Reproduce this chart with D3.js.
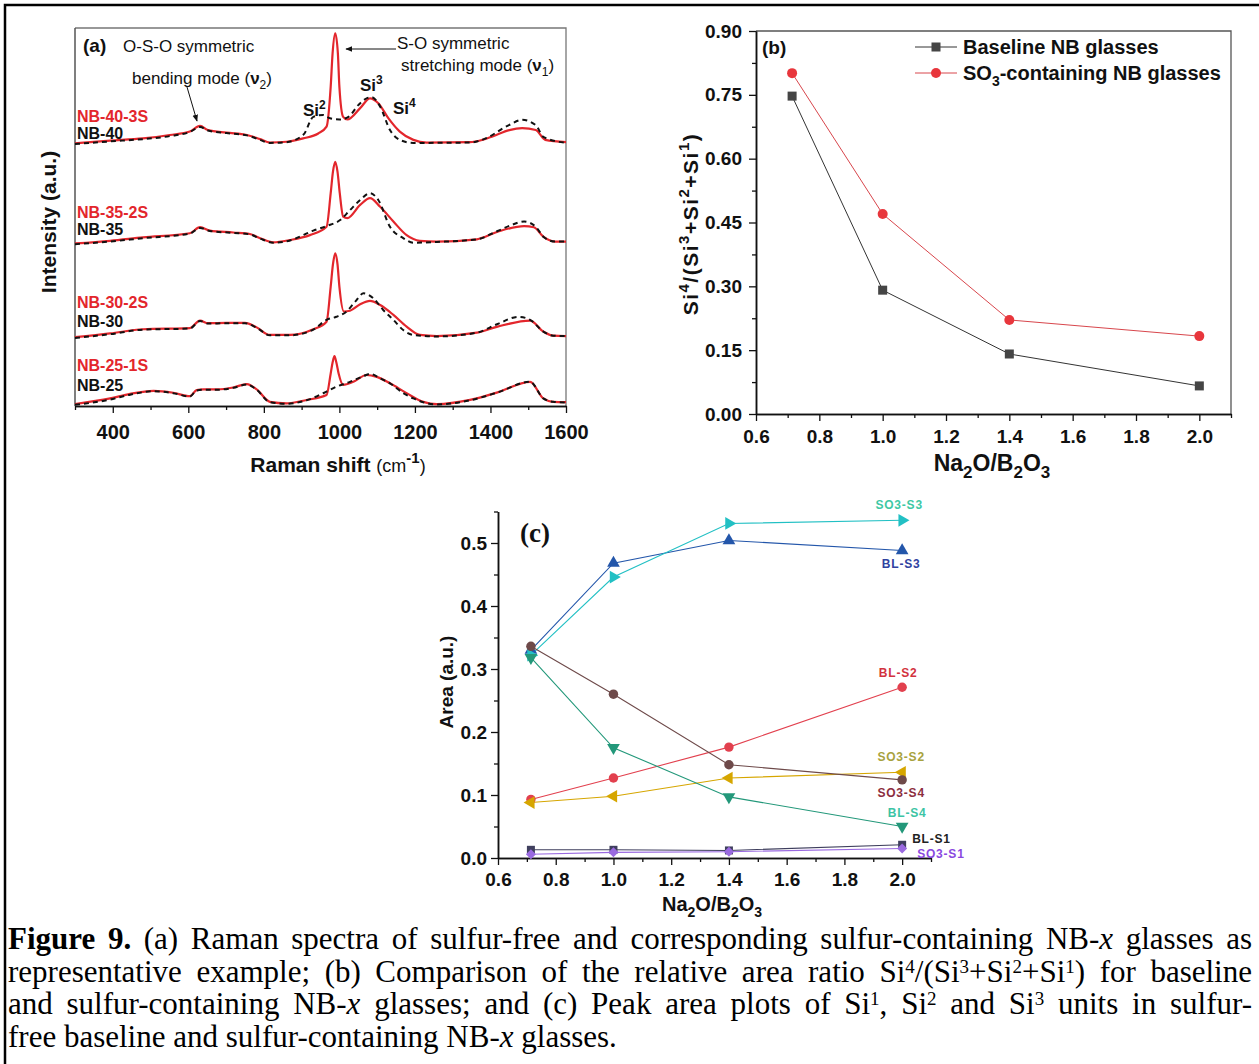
<!DOCTYPE html>
<html>
<head>
<meta charset="utf-8">
<script src="https://cdn.jsdelivr.net/npm/d3@7"></script>
<style>
body { margin: 0; background: #fff; }
svg { display: block; }
</style>
</head>
<body>
<svg id="fig"></svg>
<script>
// ---- panel (a): Raman spectra, [shift cm-1, intensity above own baseline] ----
var NB40_3S = [[300,-0.05],[393,0.02],[480,0.08],[551,0.17],[604,0.26],[631,0.41],[652,0.30],[701,0.23],[755,0.17],[790,0.06],[816,-0.03],[860,-0.01],[904,0.08],[944,0.21],[966,0.39],[977,1.45],[982,2.33],[989,2.86],[996,2.33],[1000,1.45],[1010,0.65],[1021,0.58],[1055,0.88],[1081,1.14],[1103,1.01],[1130,0.61],[1160,0.26],[1196,0.04],[1231,-0.03],[1346,-0.02],[1378,0.04],[1407,0.14],[1450,0.30],[1484,0.35],[1520,0.30],[1545,0.04],[1600,-0.02]];
var NB40 = [[300,-0.07],[393,0],[480,0.06],[551,0.14],[604,0.25],[631,0.38],[652,0.29],[701,0.22],[755,0.16],[790,0.04],[816,-0.04],[860,-0.02],[905,0.18],[931,0.65],[957,0.70],[975,0.61],[1000,0.58],[1024,0.65],[1050,0.96],[1072,1.14],[1085,1.17],[1108,0.92],[1134,0.30],[1160,0.04],[1196,-0.04],[1346,-0.03],[1378,0.04],[1449,0.43],[1484,0.57],[1520,0.43],[1540,0.12],[1600,-0.04]];
var NB35_2S = [[300,-0.05],[393,0.02],[480,0.11],[604,0.22],[631,0.38],[657,0.29],[719,0.24],[763,0.20],[790,0.09],[825,-0.02],[869,0.04],[922,0.17],[966,0.39],[977,1.28],[983,1.85],[989,2.11],[995,1.85],[1001,1.28],[1010,0.66],[1021,0.62],[1055,0.97],[1081,1.15],[1108,0.92],[1143,0.53],[1178,0.17],[1213,0.02],[1258,0],[1364,0.06],[1419,0.26],[1489,0.41],[1515,0.38],[1540,0.13],[1571,0],[1600,0]];
var NB35 = [[300,-0.07],[393,0],[480,0.09],[604,0.21],[631,0.36],[657,0.28],[719,0.23],[763,0.19],[790,0.08],[825,-0.03],[869,0.03],[931,0.29],[966,0.41],[1002,0.57],[1028,0.83],[1055,1.10],[1081,1.28],[1103,1.10],[1134,0.39],[1169,0.09],[1196,-0.03],[1258,-0.01],[1364,0.06],[1419,0.28],[1456,0.44],[1489,0.53],[1520,0.39],[1540,0.13],[1571,0],[1600,0]];
var NB30_2S = [[300,-0.03],[393,0.07],[480,0.18],[604,0.21],[631,0.41],[652,0.34],[701,0.35],[750,0.35],[781,0.23],[816,0.03],[869,0.03],[931,0.18],[966,0.38],[977,1.31],[983,1.90],[989,2.19],[995,1.90],[1000,1.31],[1012,0.65],[1028,0.67],[1055,0.84],[1081,0.93],[1108,0.82],[1143,0.56],[1178,0.25],[1213,0.03],[1258,0],[1364,0.09],[1419,0.25],[1505,0.41],[1540,0.12],[1566,0.01],[1600,0]];
var NB30 = [[300,-0.05],[393,0.05],[480,0.17],[604,0.20],[631,0.40],[652,0.33],[701,0.34],[750,0.34],[781,0.22],[816,0.02],[869,0.02],[931,0.17],[966,0.43],[992,0.51],[1019,0.65],[1042,0.91],[1064,1.13],[1090,1.00],[1116,0.69],[1143,0.43],[1169,0.16],[1196,0.03],[1258,-0.01],[1364,0.09],[1419,0.32],[1474,0.51],[1505,0.43],[1540,0.12],[1566,0.01],[1600,0]];
var NB25_1S = [[300,-0.05],[393,0.10],[446,0.22],[508,0.30],[560,0.25],[604,0.16],[622,0.32],[640,0.34],[675,0.34],[719,0.39],[755,0.48],[781,0.34],[816,0.01],[860,-0.03],[913,0.06],[966,0.19],[977,0.76],[982,1.05],[987,1.22],[992,1.05],[998,0.76],[1010,0.46],[1037,0.54],[1072,0.72],[1099,0.67],[1134,0.50],[1178,0.24],[1222,0.01],[1258,-0.05],[1346,0.06],[1419,0.26],[1505,0.54],[1540,0.10],[1566,0.01],[1600,0]];
var NB25 = [[300,-0.07],[393,0.07],[446,0.20],[508,0.29],[560,0.24],[604,0.15],[622,0.31],[640,0.33],[675,0.33],[719,0.38],[755,0.47],[781,0.33],[816,0],[860,-0.04],[913,0.05],[966,0.28],[992,0.41],[1028,0.54],[1064,0.69],[1081,0.75],[1108,0.63],[1134,0.50],[1169,0.24],[1196,0.10],[1222,0],[1258,-0.06],[1346,0.05],[1419,0.26],[1505,0.54],[1540,0.10],[1566,0.01],[1600,-0.01]];
var SULFUR_NAMES = ["NB-40-3S", "NB-35-2S", "NB-30-2S", "NB-25-1S"];
var BASE_NAMES = ["NB-40", "NB-35", "NB-30", "NB-25"];
var SULFUR_SPECTRA = [NB40_3S, NB35_2S, NB30_2S, NB25_1S];
var BASE_SPECTRA = [NB40, NB35, NB30, NB25];
var SPECTRUM_OFFSETS = [7.0, 4.35, 1.85, 0.1];
var RAMAN_TICKS = [400, 600, 800, 1000, 1200, 1400, 1600];

// ---- panel (b): Si4/(Si3+Si2+Si1) ----
var RATIO_X = [0.714, 1.0, 1.4, 2.0];
var RATIO_BASELINE = [0.747, 0.291, 0.141, 0.066];
var RATIO_SO3 = [0.801, 0.470, 0.221, 0.183];
var RATIO_TICKS = [0, 0.15, 0.30, 0.45, 0.60, 0.75, 0.90];
var NA_TICKS = [0.6, 0.8, 1.0, 1.2, 1.4, 1.6, 1.8, 2.0];

// ---- panel (c): peak areas ----
var AREA_X = [0.714, 1.0, 1.4, 2.0];
var BL_S1 = [0.013, 0.013, 0.012, 0.021];
var SO3_S1 = [0.006, 0.009, 0.010, 0.015];
var BL_S2 = [0.093, 0.127, 0.176, 0.271];
var SO3_S2 = [0.088, 0.098, 0.127, 0.136];
var BL_S3 = [0.330, 0.468, 0.504, 0.488];
var SO3_S3 = [0.322, 0.446, 0.531, 0.536];
var BL_S4 = [0.318, 0.175, 0.097, 0.050];
var SO3_S4 = [0.336, 0.260, 0.148, 0.124];
var AREA_TICKS = [0, 0.1, 0.2, 0.3, 0.4, 0.5];

var SANS = "'Liberation Sans', Arial, Helvetica, sans-serif";
var SERIF = "'Liberation Serif', 'Times New Roman', serif";
var RED = "#e3262c";

var svg = d3.select("#fig").attr("width", 1259).attr("height", 1064)
    .attr("font-family", SANS);
svg.append("rect").attr("width", 1259).attr("height", 1064).attr("fill", "#fff");
svg.append("rect").attr("x", 5).attr("y", 5).attr("width", 1262).attr("height", 1072)
    .attr("fill", "none").attr("stroke", "#000").attr("stroke-width", 2.5);

// text with sub/superscripts: parts = [[text, style]]
var rich = function(txt, parts, size, supRaise, supScale) {
    var cur = 0;
    supRaise = supRaise || 0.42;
    supScale = supScale || 0.72;
    parts.forEach(function(p) {
        var st = p[1] || "";
        var off = st === "sup" ? -supRaise * size : st === "sub" ? 0.3 * size : 0;
        var t = txt.append("tspan").text(p[0]).attr("dy", off - cur);
        if (st === "sup" || st === "sub") t.attr("font-size", Math.round(size * supScale));
        if (st === "b") t.attr("font-weight", "bold");
        if (st === "i") t.attr("font-style", "italic");
        if (st === "s") t.attr("font-size", Math.round(size * 0.84)).attr("font-weight", "normal");
        cur = off;
    });
    return txt;
};

var label = function(x, y, size, parts, opts) {
    opts = opts || {};
    var t = svg.append("text").attr("x", x).attr("y", y)
        .attr("font-size", size)
        .attr("font-weight", opts.weight || "bold")
        .attr("fill", opts.fill || "#111")
        .attr("text-anchor", opts.anchor || "start");
    if (opts.family) t.attr("font-family", opts.family);
    if (opts.rotate) t.attr("transform", "rotate(-90," + x + "," + y + ")");
    if (opts.spacing) t.attr("letter-spacing", opts.spacing);
    if (typeof parts === "string") t.text(parts); else rich(t, parts, size, opts.supRaise, opts.supScale);
    return t;
};

var styleAxis = function(g, size) {
    g.selectAll("path.domain").attr("stroke", "#111").attr("stroke-width", 1.5);
    g.selectAll(".tick line").attr("stroke", "#111").attr("stroke-width", 1.3);
    g.selectAll("text").attr("font-family", SANS).attr("font-size", size)
        .attr("font-weight", "bold").attr("fill", "#111");
};

var minorTicks = function(lo, hi, step) {
    var out = [];
    for (var i = 0; lo + i * step <= hi + 1e-9; i++) out.push(+(lo + i * step).toFixed(4));
    return out;
};

// ================= panel (a) =================
var xa = d3.scaleLinear().domain([300, 1600]).range([75, 566]);
var ya = d3.scaleLinear().domain([0, 10]).range([406, 28]);

svg.append("path").attr("d", "M75,28H566V406").attr("fill", "none")
    .attr("stroke", "#777").attr("stroke-width", 1.3);
svg.append("line").attr("x1", 75).attr("x2", 75).attr("y1", 28).attr("y2", 406)
    .attr("stroke", "#555").attr("stroke-width", 1.5);

var gxa = svg.append("g").attr("transform", "translate(0,406)");
gxa.call(d3.axisBottom(xa).tickValues(minorTicks(300, 1600, 100).filter(function(d) { return RAMAN_TICKS.indexOf(d) < 0; }))
    .tickSize(4).tickSizeOuter(0).tickFormat(""));
styleAxis(gxa, 20);
var gxa2 = svg.append("g").attr("transform", "translate(0,406)");
gxa2.call(d3.axisBottom(xa).tickValues(RAMAN_TICKS).tickSize(7).tickSizeOuter(0).tickPadding(12)
    .tickFormat(d3.format("d")));
styleAxis(gxa2, 20);

var spectrumLine = function(off) {
    return d3.line()
        .x(function(d) { return xa(d[0]); })
        .y(function(d) { return ya(d[1] + off); })
        .curve(d3.curveMonotoneX);
};

SULFUR_SPECTRA.forEach(function(s, i) {
    svg.append("path").datum(s).attr("d", spectrumLine(SPECTRUM_OFFSETS[i]))
        .attr("fill", "none").attr("stroke", RED).attr("stroke-width", 2.2)
        .attr("stroke-linejoin", "round");
});
BASE_SPECTRA.forEach(function(s, i) {
    svg.append("path").datum(s).attr("d", spectrumLine(SPECTRUM_OFFSETS[i]))
        .attr("fill", "none").attr("stroke", "#111").attr("stroke-width", 2)
        .attr("stroke-dasharray", "5,4");
});

var nameY = [[122, 139], [218, 235], [308, 327], [371, 391]];
SULFUR_NAMES.forEach(function(n, i) {
    label(77, nameY[i][0], 16, n, {fill: RED});
    label(77, nameY[i][1], 16, BASE_NAMES[i], {fill: "#111"});
});

label(83, 52, 19, "(a)");
label(123, 52, 17, "O-S-O symmetric", {weight: "normal"});
label(132, 84, 17, [["bending mode (", ""], ["ν", "b"], ["2", "sub"], [")", ""]], {weight: "normal"});
label(397, 49, 17, "S-O symmetric", {weight: "normal"});
label(401, 71, 17, [["stretching mode (", ""], ["ν", "b"], ["1", "sub"], [")", ""]], {weight: "normal"});

svg.append("defs").append("marker").attr("id", "ah").attr("viewBox", "0 0 10 10")
    .attr("refX", 9).attr("refY", 5).attr("markerWidth", 7).attr("markerHeight", 7)
    .attr("orient", "auto-start-reverse")
    .append("path").attr("d", "M0,1L10,5L0,9Z").attr("fill", "#111");
svg.append("line").attr("x1", 187).attr("y1", 87).attr("x2", 197).attr("y2", 121)
    .attr("stroke", "#111").attr("stroke-width", 1).attr("marker-end", "url(#ah)");
svg.append("line").attr("x1", 396).attr("y1", 49).attr("x2", 346).attr("y2", 49)
    .attr("stroke", "#111").attr("stroke-width", 1).attr("marker-end", "url(#ah)");

label(303, 116, 17, [["Si", ""], ["2", "sup"]]);
label(360, 91, 17, [["Si", ""], ["3", "sup"]]);
label(393, 114, 17, [["Si", ""], ["4", "sup"]]);

label(56, 222, 21, "Intensity (a.u.)", {rotate: true, anchor: "middle"});
label(338, 472, 21, [["Raman shift ", ""], ["(cm", "s"], ["-1", "sup"], [")", "s"]], {anchor: "middle"});

// ================= panel (b) =================
var xb = d3.scaleLinear().domain([0.6, 2.1]).range([756, 1231]);
var yb = d3.scaleLinear().domain([0, 0.9]).range([414, 31]);

svg.append("path").attr("d", "M756,31H1231V414").attr("fill", "none")
    .attr("stroke", "#555").attr("stroke-width", 1.3);

var gxb = svg.append("g").attr("transform", "translate(0,414)");
gxb.call(d3.axisBottom(xb).tickValues(minorTicks(0.7, 2.1, 0.2)).tickSize(4).tickSizeOuter(0).tickFormat(""));
styleAxis(gxb, 19);
var gxb2 = svg.append("g").attr("transform", "translate(0,414)");
gxb2.call(d3.axisBottom(xb).tickValues(NA_TICKS).tickSize(7).tickSizeOuter(0).tickPadding(9)
    .tickFormat(d3.format(".1f")));
styleAxis(gxb2, 19);
var gyb = svg.append("g").attr("transform", "translate(756,0)");
gyb.call(d3.axisLeft(yb).tickValues(minorTicks(0.075, 0.9, 0.15)).tickSize(4).tickSizeOuter(0).tickFormat(""));
styleAxis(gyb, 19);
var gyb2 = svg.append("g").attr("transform", "translate(756,0)");
gyb2.call(d3.axisLeft(yb).tickValues(RATIO_TICKS).tickSize(7).tickSizeOuter(0).tickPadding(7)
    .tickFormat(d3.format(".2f")));
styleAxis(gyb2, 19);

var ratioLine = d3.line().x(function(d, i) { return xb(RATIO_X[i]); }).y(function(d) { return yb(d); });
svg.append("path").datum(RATIO_BASELINE).attr("d", ratioLine).attr("fill", "none")
    .attr("stroke", "#333").attr("stroke-width", 1);
svg.append("path").datum(RATIO_SO3).attr("d", ratioLine).attr("fill", "none")
    .attr("stroke", "#d8464c").attr("stroke-width", 1);
svg.selectAll("rect.rb").data(RATIO_BASELINE).enter().append("rect")
    .attr("x", function(d, i) { return xb(RATIO_X[i]) - 4.5; })
    .attr("y", function(d) { return yb(d) - 4.5; })
    .attr("width", 9).attr("height", 9).attr("fill", "#454545");
svg.selectAll("circle.rs").data(RATIO_SO3).enter().append("circle")
    .attr("cx", function(d, i) { return xb(RATIO_X[i]); })
    .attr("cy", function(d) { return yb(d); })
    .attr("r", 5).attr("fill", "#e8363c");

// legend
svg.append("line").attr("x1", 915).attr("x2", 957).attr("y1", 47).attr("y2", 47).attr("stroke", "#333");
svg.append("rect").attr("x", 931.5).attr("y", 42.5).attr("width", 9).attr("height", 9).attr("fill", "#454545");
svg.append("line").attr("x1", 915).attr("x2", 957).attr("y1", 73).attr("y2", 73).attr("stroke", "#d8464c");
svg.append("circle").attr("cx", 936).attr("cy", 73).attr("r", 5).attr("fill", "#e8363c");
label(963, 54, 20, "Baseline NB glasses");
label(963, 80, 20, [["SO", ""], ["3", "sub"], ["-containing NB glasses", ""]]);
label(762, 54, 19, "(b)");

label(698, 224, 21, [["Si", ""], ["4", "sup"], ["/(Si", ""], ["3", "sup"], ["+Si", ""], ["2", "sup"], ["+Si", ""], ["1", "sup"], [")", ""]],
    {rotate: true, anchor: "middle", spacing: 1.5});
label(992, 471, 23, [["Na", ""], ["2", "sub"], ["O/B", ""], ["2", "sub"], ["O", ""], ["3", "sub"]], {anchor: "middle"});

// ================= panel (c) =================
var xc = d3.scaleLinear().domain([0.6, 2.1]).range([498, 931]);
var yc = d3.scaleLinear().domain([0, 0.55]).range([858, 511.5]);

var gxc = svg.append("g").attr("transform", "translate(0,858)");
gxc.call(d3.axisBottom(xc).tickValues(minorTicks(0.7, 2.1, 0.2)).tickSize(4).tickSizeOuter(0).tickFormat(""));
styleAxis(gxc, 19);
var gxc2 = svg.append("g").attr("transform", "translate(0,858)");
gxc2.call(d3.axisBottom(xc).tickValues(NA_TICKS).tickSize(7).tickSizeOuter(0).tickPadding(8)
    .tickFormat(d3.format(".1f")));
styleAxis(gxc2, 19);
var gyc = svg.append("g").attr("transform", "translate(498,0)");
gyc.call(d3.axisLeft(yc).tickValues(minorTicks(0.05, 0.55, 0.1)).tickSize(4).tickSizeOuter(0).tickFormat(""));
styleAxis(gyc, 19);
var gyc2 = svg.append("g").attr("transform", "translate(498,0)");
gyc2.call(d3.axisLeft(yc).tickValues(AREA_TICKS).tickSize(7).tickSizeOuter(0).tickPadding(4)
    .tickFormat(d3.format(".1f")));
styleAxis(gyc2, 19);

var SERIES_C = [
    {name: "BL-S1", v: BL_S1, color: "#3f3f5e", sym: d3.symbolSquare, rot: 0, size: 64, lc: "#222", dx: 10, dy: -2, anchor: "start"},
    {name: "SO3-S1", v: SO3_S1, color: "#9a6ae0", sym: d3.symbolSquare, rot: 45, size: 50, lc: "#8a48e0", dx: 15, dy: 9, anchor: "start"},
    {name: "BL-S2", v: BL_S2, color: "#e2404e", sym: d3.symbolCircle, rot: 0, size: 70, lc: "#d2323e", dx: -4, dy: -10, anchor: "middle"},
    {name: "SO3-S2", v: SO3_S2, color: "#d6a600", sym: d3.symbolTriangle, rot: -90, size: 70, lc: "#a8a23e", dx: -1, dy: -11, anchor: "middle"},
    {name: "BL-S3", v: BL_S3, color: "#2356aa", sym: d3.symbolTriangle, rot: 0, size: 70, lc: "#3042a0", dx: -1, dy: 17, anchor: "middle"},
    {name: "SO3-S3", v: SO3_S3, color: "#22c0c4", sym: d3.symbolTriangle, rot: 90, size: 70, lc: "#3ec8a4", dx: -3, dy: -11, anchor: "middle"},
    {name: "BL-S4", v: BL_S4, color: "#23987a", sym: d3.symbolTriangle, rot: 180, size: 70, lc: "#3cc4a4", dx: 5, dy: -10, anchor: "middle"},
    {name: "SO3-S4", v: SO3_S4, color: "#6e4a4a", sym: d3.symbolCircle, rot: 0, size: 70, lc: "#8c2e3e", dx: -1, dy: 17, anchor: "middle"}
];

var areaLine = d3.line().x(function(d, i) { return xc(AREA_X[i]); }).y(function(d) { return yc(d); });
SERIES_C.forEach(function(s) {
    svg.append("path").datum(s.v).attr("d", areaLine).attr("fill", "none")
        .attr("stroke", s.color).attr("stroke-width", 1.1);
});
SERIES_C.forEach(function(s) {
    svg.selectAll(null).data(s.v).enter().append("path")
        .attr("d", d3.symbol().type(s.sym).size(s.size))
        .attr("transform", function(d, i) {
            return "translate(" + xc(AREA_X[i]) + "," + yc(d) + ") rotate(" + s.rot + ")";
        })
        .attr("fill", s.color);
    var last = s.v.length - 1;
    label(xc(AREA_X[last]) + s.dx, yc(s.v[last]) + s.dy, 12, s.name,
        {fill: s.lc, anchor: s.anchor, spacing: 0.8});
});

label(520, 542, 27, "(c)", {family: SERIF});
label(453, 682, 19, "Area (a.u.)", {rotate: true, anchor: "middle"});
label(712, 911, 20, [["Na", ""], ["2", "sub"], ["O/B", ""], ["2", "sub"], ["O", ""], ["3", "sub"]], {anchor: "middle"});

// ================= caption =================
var CAPTION = [
    [["Figure 9.", "b"], [" (a) Raman spectra of sulfur-free and corresponding sulfur-containing NB-", ""], ["x", "i"], [" glasses as", ""]],
    [["representative example; (b) Comparison of the relative area ratio Si", ""], ["4", "sup"], ["/(Si", ""], ["3", "sup"], ["+Si", ""], ["2", "sup"], ["+Si", ""], ["1", "sup"], [") for baseline", ""]],
    [["and sulfur-containing NB-", ""], ["x", "i"], [" glasses; and (c) Peak area plots of Si", ""], ["1", "sup"], [", Si", ""], ["2", "sup"], [" and Si", ""], ["3", "sup"], [" units in sulfur-", ""]],
    [["free baseline and sulfur-containing NB-", ""], ["x", "i"], [" glasses.", ""]]
];
CAPTION.forEach(function(line, i) {
    var t = label(8, 949 + i * 32.5, 31, line,
        {weight: "normal", family: SERIF, fill: "#000", supRaise: 0.28, supScale: 0.6});
    if (i < 3) {
        // justify the line to the right margin through word spacing
        var w = t.node().getComputedTextLength();
        var gaps = t.text().split(" ").length - 1;
        t.attr("word-spacing", (1244 - w) / gaps);
    }
});
</script>
</body>
</html>
